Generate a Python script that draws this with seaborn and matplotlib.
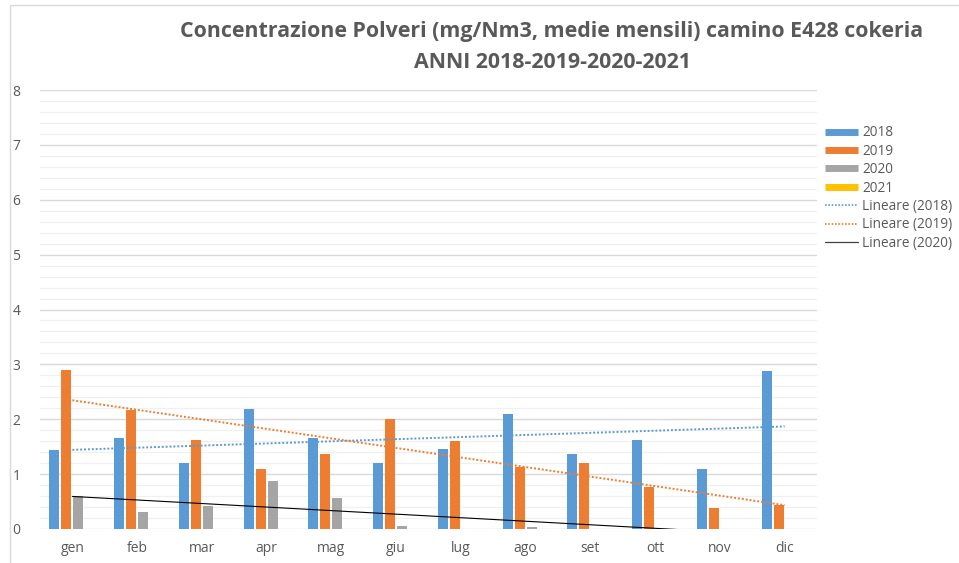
import numpy as np
import pandas as pd
import matplotlib
matplotlib.use("Agg")
import matplotlib.pyplot as plt
from matplotlib.lines import Line2D
from matplotlib.patches import Rectangle
import seaborn as sns

months = ['gen', 'feb', 'mar', 'apr', 'mag', 'giu', 'lug', 'ago', 'set', 'ott', 'nov', 'dic']
years = ['2018', '2019', '2020', '2021']
v2018 = [1.44, 1.66, 1.20, 2.19, 1.66, 1.21, 1.46, 2.10, 1.36, 1.62, 1.09, 2.88]
v2019 = [2.90, 2.17, 1.62, 1.09, 1.37, 2.01, 1.60, 1.13, 1.21, 0.76, 0.38, 0.44]
v2020 = [0.61, 0.31, 0.42, 0.87, 0.57, 0.05, 0.0, 0.03, 0.0, 0.0, 0.0, 0.0]
v2021 = [0.0] * 12

colors = {'2018': '#5B9BD5', '2019': '#ED7D31', '2020': '#A5A5A5', '2021': '#FFC000'}

rows = []
for yr, vals in zip(years, [v2018, v2019, v2020, v2021]):
    for m, v in zip(months, vals):
        rows.append({'mese': m, 'anno': yr, 'valore': v})
df = pd.DataFrame(rows)

sns.set_style('white')
plt.rcParams['font.family'] = ['Open Sans', 'DejaVu Sans']

fig = plt.figure(figsize=(9.59, 5.63), dpi=100)
ax = fig.add_axes([40 / 959, 34 / 563, 777 / 959, 439 / 563])

sns.barplot(data=df, x='mese', y='valore', hue='anno', order=months, hue_order=years,
            palette=colors, saturation=1, width=0.74, gap=0.15, ax=ax, legend=False,
            edgecolor='none', linewidth=0)

# trend lines (linear fit, like Excel "Lineare")
x = np.arange(len(months))
for vals, col, ls, lw in [(v2018, '#5B9BD5', (0, (1, 1)), 1.4),
                          (v2019, '#ED7D31', (0, (1, 1)), 1.4),
                          (v2020, '#000000', '-', 0.8)]:
    k, q = np.polyfit(x, vals, 1)
    ax.plot(x, k * x + q, color=col, linestyle=ls, linewidth=lw, zorder=3)

ax.set_ylim(0, 8)
ax.set_xlim(-0.5, 11.5)
ax.set_yticks(range(0, 9))
ax.set_yticks(np.arange(0, 8.01, 0.2), minor=True)
ax.grid(axis='y', which='major', color='#D9D9D9', linewidth=1.0)
ax.grid(axis='y', which='minor', color='#F0F0F0', linewidth=0.9)
ax.set_axisbelow(True)
ax.tick_params(axis='y', which='both', length=0, labelsize=10, labelcolor='#595959', pad=14)
ax.tick_params(axis='x', length=0, labelsize=10, labelcolor='#595959', pad=9)
for s in ax.spines.values():
    s.set_visible(False)
ax.set_xlabel('')
ax.set_ylabel('')

fig.text(552 / 959, 1 - 32 / 563, 'Concentrazione Polveri (mg/Nm3, medie mensili) camino E428 cokeria',
         ha='center', va='center', fontsize=15.4, fontweight='bold', color='#595959')
fig.text(552 / 959, 1 - 62 / 563, 'ANNI 2018-2019-2020-2021',
         ha='center', va='center', fontsize=15.4, fontweight='bold', color='#595959')

handles = [Line2D([], [], color=colors[y], lw=5, solid_capstyle='butt') for y in years]
handles += [Line2D([], [], color='#5B9BD5', lw=1.2, linestyle=(0, (1, 1))),
            Line2D([], [], color='#ED7D31', lw=1.2, linestyle=(0, (1, 1))),
            Line2D([], [], color='#404040', lw=0.9)]
labels = years + ['Lineare (2018)', 'Lineare (2019)', 'Lineare (2020)']
leg = fig.legend(handles, labels, loc='upper left', bbox_to_anchor=(820 / 959, 1 - 120 / 563),
                 frameon=False, fontsize=9.8, handlelength=2.4, handletextpad=0.3,
                 labelspacing=0.25, borderaxespad=0)
for t in leg.get_texts():
    t.set_color('#595959')

# chart area border
fig.patches.append(Rectangle((10 / 959, -0.1), 1.1, 1 - 5 / 563 + 0.1, transform=fig.transFigure,
                             fill=False, edgecolor='#D9D9D9', linewidth=1))

fig.savefig('out.png', dpi=100)
